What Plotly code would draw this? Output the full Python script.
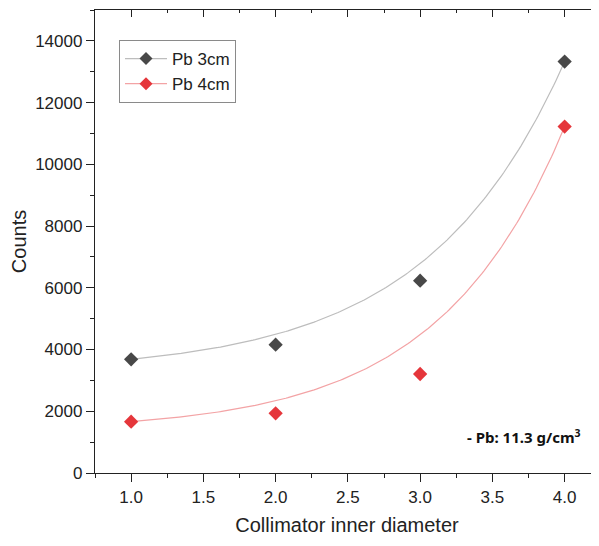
import numpy as np
import plotly.graph_objects as go

# ---- data ----
diameter = [1.0, 2.0, 3.0, 4.0]
pb3_counts = [3684, 4157, 6231, 13328]
pb4_counts = [1662, 1934, 3208, 11222]
series_names = ["Pb 3cm", "Pb 4cm"]
x_tick_vals = [1.0, 1.5, 2.0, 2.5, 3.0, 3.5, 4.0]
y_tick_vals = [0, 2000, 4000, 6000, 8000, 10000, 12000, 14000]
note_text = "- Pb: 11.3 g/cm<sup>3</sup>"
# growth constants of the exponential fit curves
fit_tau = [0.955, 0.87]


def exp_curve(x, y, tau):
    """Exponential growth curve y0 + A*exp(x/tau) anchored at the first and last points."""
    x = np.asarray(x, float)
    y = np.asarray(y, float)
    xs = np.linspace(x[0], x[-1], 200)
    e0, e1 = np.exp(x[0] / tau), np.exp(x[-1] / tau)
    ys = y[0] + (y[-1] - y[0]) * (np.exp(xs / tau) - e0) / (e1 - e0)
    return xs, ys


gray_mk = "#484848"
gray_ln = "#bdbdbd"
red_mk = "#e5363b"
red_ln = "#f3a3a5"
font_main = "Liberation Sans, Arial, sans-serif"

fig = go.Figure()

for ys, name, mk, ln, tau in [(pb3_counts, series_names[0], gray_mk, gray_ln, fit_tau[0]),
                              (pb4_counts, series_names[1], red_mk, red_ln, fit_tau[1])]:
    fx, fy = exp_curve(diameter, ys, tau)
    fig.add_trace(go.Scatter(x=fx, y=fy, mode="lines", line=dict(color=ln, width=1.2),
                             showlegend=False, hoverinfo="skip"))
    fig.add_trace(go.Scatter(x=diameter, y=ys, mode="markers",
                             marker=dict(symbol="diamond", size=11, color=mk),
                             showlegend=False))
    # legend entry
    fig.add_trace(go.Scatter(x=[None], y=[None], mode="lines+markers", name=name,
                             line=dict(color=ln, width=1.2),
                             marker=dict(symbol="diamond", size=10, color=mk)))

# page body has an 8px margin: figure is sized/offset to compensate
W, H = 591, 538
ML, MR, MT, MB = 87, 0, 2, 73
pw = W - ML - MR
ph = H - MT - MB
xr = [0.75, 0.75 + pw / 144.5]
yr = [0, 15000]

fig.update_layout(
    width=W, height=H,
    margin=dict(l=ML, r=MR, t=MT, b=MB, pad=0),
    paper_bgcolor="white", plot_bgcolor="white",
    font=dict(family=font_main, size=17, color="#222222"),
    showlegend=True,
    legend=dict(x=(119 - 95) / pw, y=(473 - 40) / ph, xanchor="left", yanchor="top",
                bgcolor="white", bordercolor="#8a8a8a", borderwidth=1,
                font=dict(size=17, family=font_main, color="#222222"),
                itemwidth=42, tracegroupgap=0, entrywidth=118, entrywidthmode="pixels"),
    xaxis=dict(range=xr, tickvals=x_tick_vals, tickformat=".1f",
               showgrid=False, zeroline=False,
               showline=True, linecolor="#222222", linewidth=1.3,
               ticks="outside", ticklen=8, tickwidth=1.2, tickcolor="#222222",
               minor=dict(dtick=0.25, tick0=0.75, ticks="outside", ticklen=4,
                          tickcolor="#222222", showgrid=False),
               tickfont=dict(size=17),
               title=dict(text="Collimator inner diameter", font=dict(size=20), standoff=12)),
    yaxis=dict(range=yr, tickvals=y_tick_vals, tickformat="d",
               showgrid=False, zeroline=False,
               showline=True, linecolor="#222222", linewidth=1.3,
               ticks="outside", ticklen=8, tickwidth=1.2, tickcolor="#222222",
               minor=dict(dtick=1000, tick0=0, ticks="outside", ticklen=4,
                          tickcolor="#222222", showgrid=False),
               tickfont=dict(size=17),
               title=dict(text="Counts", font=dict(size=20), standoff=10)),
    xaxis2=dict(range=xr, overlaying="x", side="top", anchor="y",
                tickvals=x_tick_vals, showticklabels=False,
                showgrid=False, zeroline=False,
                showline=True, linecolor="#222222", linewidth=1.3,
                ticks="inside", ticklen=7, tickwidth=1.2, tickcolor="#222222",
                minor=dict(dtick=0.25, tick0=0.75, ticks="inside", ticklen=3,
                           tickcolor="#222222", showgrid=False)),
    yaxis2=dict(range=yr, overlaying="y", side="right", anchor="x",
                tickvals=y_tick_vals, showticklabels=False,
                showgrid=False, zeroline=False, showline=False,
                ticks="inside", ticklen=6, tickwidth=1.2, tickcolor="#222222",
                minor=dict(dtick=1000, tick0=0, ticks="inside", ticklen=2,
                           tickcolor="#222222", showgrid=False)),
)

# dummy trace so the mirrored axes are drawn
fig.add_trace(go.Scatter(x=[None], y=[None], xaxis="x2", yaxis="y2",
                         showlegend=False, hoverinfo="skip"))

fig.add_annotation(text=note_text, xref="paper", yref="y", x=(583 - 95) / pw, y=1170,
                   xanchor="right", yanchor="middle", showarrow=False,
                   font=dict(family="Noto Sans, sans-serif", size=15, color="#111111",
                             weight="bold"))

fig.write_html("out.html")
